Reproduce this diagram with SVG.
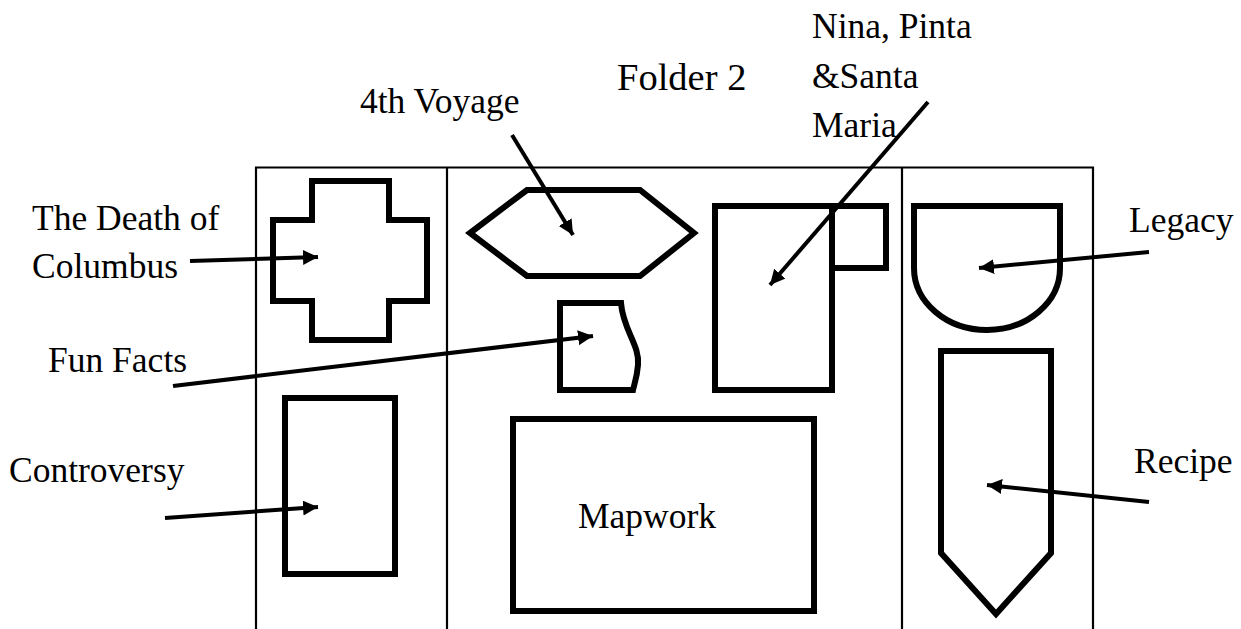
<svg xmlns="http://www.w3.org/2000/svg" width="1241" height="629" viewBox="0 0 1241 629">
<style>
.frame{fill:none;stroke:#000;stroke-width:2.2}
.shape{fill:none;stroke:#000;stroke-width:6;stroke-linejoin:miter}
.conn{fill:none;stroke:#000;stroke-width:4}
text{font-family:"Liberation Serif","Times New Roman",serif;font-size:35.5px;fill:#000}
</style>
<defs>
<marker id="ah" markerUnits="userSpaceOnUse" markerWidth="16" markerHeight="16" refX="15" refY="7.5" orient="auto">
<path d="M0,0 L15,7.5 L0,15 Z" fill="#000"/>
</marker>
</defs>
<rect width="1241" height="629" fill="#fff"/>
<g id="folder">
<path class="frame" d="M256,629 V167.5 H1093 V629 M447,167.5 V629 M902,167.5 V629"/>
</g>
<g id="title"><text x="617" y="90" style="font-size:38.5px">Folder 2</text></g>
<g id="death">
<path class="shape" d="M312,181 H389 V220 H427 V301 H389 V340 H312 V301 H273 V220 H312 Z"/>
<text x="32" y="230">The Death of</text>
<text x="32" y="278">Columbus</text>
</g>
<g id="controversy">
<rect class="shape" x="285" y="398" width="110" height="176"/>
<text x="9" y="482">Controversy</text>
</g>
<g id="voyage">
<path class="shape" d="M470,233 L527,190 H640 L694,233 L640,276 H527 Z"/>
<text x="360" y="113">4th Voyage</text>
</g>
<g id="funfacts">
<path class="shape" d="M560,303 H621 C623,330 640,345 638,365 C637,378 634,385 633,390 H560 Z"/>
<text x="48" y="372">Fun Facts</text>
</g>
<g id="ships">
<rect class="shape" x="715" y="206" width="117" height="184"/>
<path class="shape" d="M832,206 H886 V268 H832"/>
<text x="812" y="38">Nina, Pinta</text>
<text x="812" y="88">&amp;Santa</text>
<text x="812" y="137">Maria</text>
</g>
<g id="mapwork">
<rect class="shape" x="513" y="419" width="301" height="192"/>
<text x="578" y="528">Mapwork</text>
</g>
<g id="legacy">
<path class="shape" d="M914,206 H1060 V268 A73,62 0 0 1 914,268 Z"/>
<text x="1129" y="232">Legacy</text>
</g>
<g id="recipe">
<path class="shape" d="M941,351 H1051 V553 L996,614 L941,553 Z"/>
<text x="1134" y="473">Recipe</text>
</g>
<g id="connectors">
<line class="conn" x1="190" y1="261" x2="318" y2="257" marker-end="url(#ah)"/>
<line class="conn" x1="173" y1="386" x2="593" y2="336" marker-end="url(#ah)"/>
<line class="conn" x1="165" y1="518" x2="318" y2="507" marker-end="url(#ah)"/>
<line class="conn" x1="512" y1="135" x2="573" y2="235" marker-end="url(#ah)"/>
<line class="conn" x1="928" y1="102" x2="770" y2="285" marker-end="url(#ah)"/>
<line class="conn" x1="1149" y1="252" x2="979" y2="268" marker-end="url(#ah)"/>
<line class="conn" x1="1149" y1="502" x2="987" y2="485" marker-end="url(#ah)"/>
</g>
</svg>
